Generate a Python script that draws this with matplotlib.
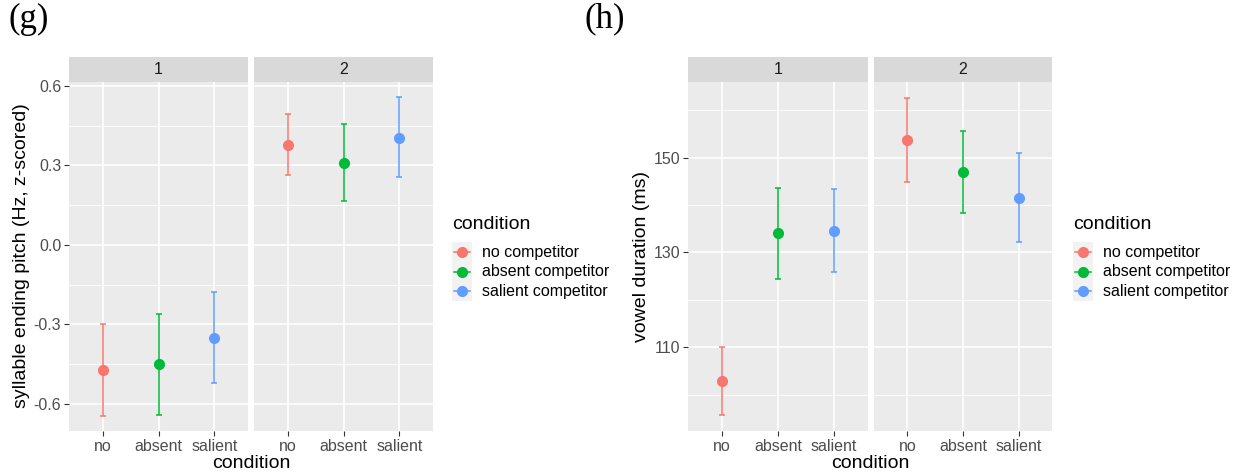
import numpy as np
import matplotlib
matplotlib.use('Agg')
import matplotlib.pyplot as plt
from matplotlib.patches import Rectangle
from matplotlib.lines import Line2D

plt.rcParams['font.family'] = ['Liberation Sans', 'DejaVu Sans']

conds = ['no', 'absent', 'salient']
legend_labels = ['no competitor', 'absent competitor', 'salient competitor']
colors = ['#F8766D', '#00BA38', '#619CFF']
facets = ['1', '2']

# (g) syllable ending pitch
pitch_mean = [[-0.472, -0.450, -0.350], [0.378, 0.310, 0.405]]
pitch_lo = [[-0.645, -0.641, -0.521], [0.262, 0.165, 0.256]]
pitch_hi = [[-0.300, -0.260, -0.178], [0.496, 0.458, 0.557]]

# (h) vowel duration
dur_mean = [[102.8, 134.1, 134.6], [153.7, 147.0, 141.6]]
dur_lo = [[95.6, 124.5, 125.8], [144.9, 138.4, 132.3]]
dur_hi = [[110.0, 143.7, 143.4], [162.7, 155.6, 151.1]]

W, H = 1238, 475
fig = plt.figure(figsize=(W / 100, H / 100), dpi=100)

GRAY30 = '#4D4D4D'
GRAY20 = '#333333'


def fbox(x0, y0, x1, y1):
    return [x0 / W, 1 - y1 / H, (x1 - x0) / W, (y1 - y0) / H]


def draw_chart(panels_x, means, los, his, ylim, yticks, yminor, ytlabels, ylabel, tag, tag_x, leg_x):
    top, bot, strip_top = 82, 431, 57
    axes = []
    for k, (x0, x1) in enumerate(panels_x):
        ax = fig.add_axes(fbox(x0, top, x1, bot))
        ax.set_facecolor('#EBEBEB')
        for s in ax.spines.values():
            s.set_visible(False)
        ax.set_xlim(0.4, 3.6)
        ax.set_ylim(*ylim)
        for yv in yminor:
            ax.axhline(yv, color='white', lw=0.6, zorder=0)
        for yv in yticks:
            ax.axhline(yv, color='white', lw=1.2, zorder=0)
        for xv in range(1, 4):
            ax.axvline(xv, color='white', lw=1.2, zorder=0)
        for i in range(3):
            e = [[means[k][i] - los[k][i]], [his[k][i] - means[k][i]]]
            ax.errorbar(i + 1, means[k][i], yerr=e, fmt='o', color=colors[i],
                        ms=7, elinewidth=1.1, capsize=2.5, capthick=1.1, zorder=3)
        ax.set_xticks([1, 2, 3])
        ax.set_xticklabels(conds, fontsize=11.5, color=GRAY30)
        ax.set_yticks(yticks)
        if k == 0:
            ax.set_yticklabels(ytlabels, fontsize=11.5, color=GRAY30)
            ax.tick_params(axis='y', length=3.5, width=0.8, color=GRAY20, pad=2)
        else:
            ax.tick_params(axis='y', length=0, labelleft=False)
        ax.tick_params(axis='x', length=3.5, width=0.8, color=GRAY20, pad=2)
        # facet strip
        sh = (top - strip_top) / (bot - top)
        ax.add_patch(Rectangle((0, 1), 1, sh, transform=ax.transAxes,
                               facecolor='#D9D9D9', edgecolor='none', clip_on=False))
        ax.text(0.5, 1 + sh / 2, facets[k], transform=ax.transAxes, ha='center',
                va='center', fontsize=11.5, color='#1A1A1A')
        axes.append(ax)

    xc = (panels_x[0][0] + panels_x[1][1]) / 2
    fig.text(xc / W, 1 - 463 / H, 'condition', ha='center', va='center', fontsize=14)
    fig.text((panels_x[0][0] - 47) / W, 1 - 256 / H, ylabel, rotation=90,
             ha='center', va='center', fontsize=14)
    fig.text(tag_x / W, 1 - 19 / H, tag, ha='left', va='center', fontsize=25,
             family='Liberation Serif')

    # legend
    fig.text(leg_x / W, 1 - 224 / H, 'condition', ha='left', va='center', fontsize=14)
    fig.patches.append(Rectangle(((leg_x) / W, 1 - 301 / H), 20 / W, 59 / H,
                                 transform=fig.transFigure, facecolor='#F2F2F2',
                                 edgecolor='none'))
    for i, lab in enumerate(legend_labels):
        yy = 1 - (252 + 19.7 * i) / H
        fig.lines.append(Line2D([(leg_x + 2) / W, (leg_x + 18) / W], [yy, yy],
                                transform=fig.transFigure, color=colors[i], lw=1.1))
        fig.lines.append(Line2D([(leg_x + 10) / W], [yy], transform=fig.transFigure,
                                color=colors[i], marker='o', ms=7, lw=0))
        fig.text((leg_x + 30) / W, yy, lab, ha='left', va='center', fontsize=11.5,
                 color='black')


draw_chart([(69, 248), (254, 433)], pitch_mean, pitch_lo, pitch_hi,
           (-0.703, 0.615), [-0.6, -0.3, 0.0, 0.3, 0.6], [-0.45, -0.15, 0.15, 0.45],
           ['-0.6', '-0.3', '0.0', '0.3', '0.6'],
           'syllable ending pitch (Hz, z-scored)', '(g)', 8, 452)

draw_chart([(688, 868), (874, 1052)], dur_mean, dur_lo, dur_hi,
           (92.3, 166.0), [110, 130, 150], [100, 120, 140, 160],
           ['110', '130', '150'],
           'vowel duration (ms)', '(h)', 585, 1073)

fig.savefig('out.png', dpi=100)
